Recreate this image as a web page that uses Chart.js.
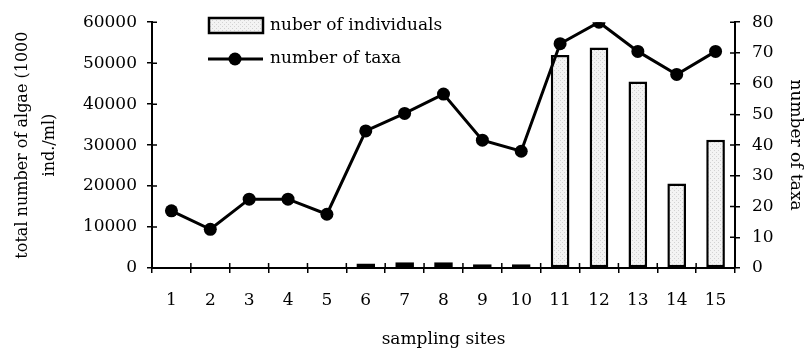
<!DOCTYPE html>
<html>
<head>
<meta charset="utf-8">
<script src="https://cdn.jsdelivr.net/npm/chart.js@4/dist/chart.umd.min.js"></script>
<style>
  html, body { margin: 0; padding: 0; background: #fff; }
  #wrap { width: 807px; height: 350px; }
</style>
</head>
<body>
<div id="wrap"><canvas id="algaeChart" width="807" height="350"></canvas></div>
<script>
const sites = ['1', '2', '3', '4', '5', '6', '7', '8', '9', '10', '11', '12', '13', '14', '15'];
const individuals = [0, 0, 0, 0, 0, 1100, 1400, 1400, 900, 900, 52000, 53800, 45500, 20600, 31300];
const taxa = [18.6, 12.6, 22.4, 22.4, 17.5, 44.6, 50.3, 56.6, 41.6, 38, 73, 80, 70.5, 63, 70.5];
const leftTicks = [0, 10000, 20000, 30000, 40000, 50000, 60000];
const rightTicks = [0, 10, 20, 30, 40, 50, 60, 70, 80];

const serif = 'DejaVu Serif';

// stippled light grey fill, like the scanned bars
function stipple() {
  const c = document.createElement('canvas');
  c.width = 4; c.height = 4;
  const g = c.getContext('2d');
  g.fillStyle = '#f3f3f3';
  g.fillRect(0, 0, 4, 4);
  g.fillStyle = '#d2d2d2';
  g.fillRect(0, 0, 1, 1);
  g.fillRect(2, 2, 1, 1);
  return g.createPattern(c, 'repeat');
}
const barFill = stipple();

// ticks in the picture cross the axis lines, Chart.js only draws the outer half
const innerTicks = {
  id: 'innerTicks',
  afterDraw(chart) {
    const {ctx, chartArea: a, scales} = chart;
    const len = 5;
    ctx.save();
    ctx.strokeStyle = '#000';
    ctx.lineWidth = 1.5;
    ctx.beginPath();
    scales.y.ticks.forEach(t => {
      const y = scales.y.getPixelForValue(t.value);
      ctx.moveTo(a.left, y); ctx.lineTo(a.left + len, y);
    });
    scales.y1.ticks.forEach(t => {
      const y = scales.y1.getPixelForValue(t.value);
      ctx.moveTo(a.right, y); ctx.lineTo(a.right - len, y);
    });
    for (let i = 0; i <= sites.length; i++) {
      const x = scales.x.getPixelForValue(i - 0.5);
      ctx.moveTo(x, a.bottom); ctx.lineTo(x, a.bottom - len);
    }
    ctx.stroke();
    ctx.restore();
  }
};

// legend sits inside the plot, top left
const innerLegend = {
  id: 'innerLegend',
  afterDraw(chart) {
    const {ctx, chartArea: a} = chart;
    const x0 = a.left + 57;
    ctx.save();
    ctx.fillStyle = barFill;
    ctx.fillRect(x0, 18, 54, 15);
    ctx.strokeStyle = '#000';
    ctx.lineWidth = 2.5;
    ctx.strokeRect(x0, 18, 54, 15);

    ctx.lineWidth = 3;
    ctx.beginPath();
    ctx.moveTo(x0 - 1, 59); ctx.lineTo(x0 + 54, 59);
    ctx.stroke();
    ctx.fillStyle = '#000';
    ctx.beginPath();
    ctx.arc(x0 + 26, 59, 6.5, 0, Math.PI * 2);
    ctx.fill();

    ctx.font = '17px "' + serif + '"';
    ctx.textBaseline = 'middle';
    ctx.textAlign = 'left';
    ctx.fillText('nuber of individuals', x0 + 61, 26);
    ctx.fillText('number of taxa', x0 + 61, 59);
    ctx.restore();
  }
};

const axisGrid = {drawOnChartArea: false, drawTicks: true, tickLength: 5, color: '#000', lineWidth: 1.5};
const axisBorder = {color: '#000', width: 2};
const plain = v => String(v);

new Chart(document.getElementById('algaeChart'), {
  type: 'bar',
  data: {
    labels: sites,
    datasets: [
      {
        type: 'line',
        label: 'number of taxa',
        data: taxa,
        yAxisID: 'y1',
        borderColor: '#000',
        backgroundColor: '#000',
        borderWidth: 3,
        pointRadius: 6.5,
        pointBackgroundColor: '#000',
        pointBorderWidth: 0,
        tension: 0,
        order: 0,
      },
      {
        label: 'nuber of individuals',
        data: individuals,
        yAxisID: 'y',
        backgroundColor: barFill,
        borderColor: '#000',
        borderWidth: 2.5,
        borderSkipped: false,
        barPercentage: 0.48,
        categoryPercentage: 1,
        order: 1,
      },
    ],
  },
  options: {
    responsive: false,
    animation: false,
    layout: {padding: {top: 20, left: 0, right: 0, bottom: 0}},
    plugins: {
      legend: {display: false},
      tooltip: {enabled: false},
    },
    scales: {
      x: {
        grid: axisGrid,
        border: axisBorder,
        ticks: {color: '#000', padding: 17, font: {family: serif, size: 17}},
        title: {display: true, text: 'sampling sites', color: '#000', padding: 0, font: {family: serif, size: 17}},
        afterFit(s) { s.height = 82; },
      },
      y: {
        position: 'left',
        min: 0,
        max: 60000,
        afterBuildTicks(s) { s.ticks = leftTicks.map(v => ({value: v})); },
        grid: axisGrid,
        border: axisBorder,
        ticks: {color: '#000', padding: 10, font: {family: serif, size: 17}, callback: plain},
        title: {
          display: true,
          text: ['total number of algae (1000', 'ind./ml)'],
          color: '#000',
          padding: {top: 9, bottom: 0},
          font: {family: serif, size: 16, lineHeight: 1.7},
        },
        afterFit(s) { s.width = 152; },
      },
      y1: {
        position: 'right',
        min: 0,
        max: 80,
        afterBuildTicks(s) { s.ticks = rightTicks.map(v => ({value: v})); },
        grid: axisGrid,
        border: axisBorder,
        ticks: {color: '#000', padding: 12, font: {family: serif, size: 17}, callback: plain},
        title: {display: true, text: 'number of taxa', color: '#000', padding: {top: 1, bottom: 0}, font: {family: serif, size: 17}},
        afterFit(s) { s.width = 72; },
      },
    },
  },
  plugins: [innerTicks, innerLegend],
});
</script>
</body>
</html>
